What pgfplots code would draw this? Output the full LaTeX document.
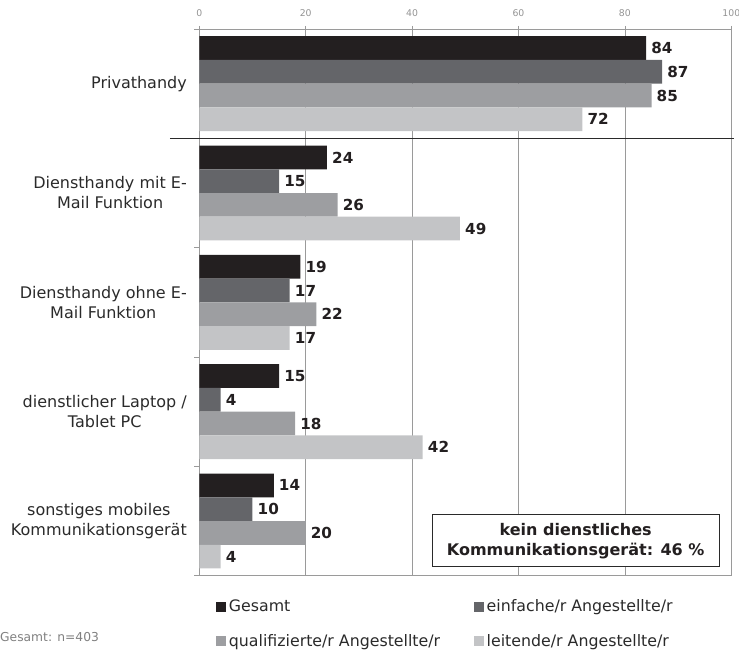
\documentclass[border=0pt]{standalone}
\usepackage{fontspec}
\setmainfont{DejaVu Sans}
\usepackage{pgfplots}
\pgfplotsset{compat=1.18}

\definecolor{cGes}{HTML}{231F20}
\definecolor{cEin}{HTML}{646569}
\definecolor{cQua}{HTML}{9D9EA1}
\definecolor{cLei}{HTML}{C3C4C6}
\definecolor{gridc}{HTML}{9A9A9A}
\definecolor{txt}{HTML}{2A2A2A}
\definecolor{ticktxt}{HTML}{939393}

\pgfplotsset{
  sq/.style={legend image code/.code={\fill[##1] (0pt,-5pt) rectangle (10pt,5pt);}},
}

\begin{document}
\begin{tikzpicture}
\useasboundingbox (-199.3pt,-74.3pt) rectangle (539.7pt,575.7pt);
\begin{axis}[
  scale only axis, width=532pt, height=546.7pt,
  xbar, bar width=0.217,
  xmin=0, xmax=100, ymin=-0.5, ymax=4.5, y dir=reverse,
  clip=false,
  /pgf/number format/assume math mode=true,
  axis line style={gridc, line width=0.8pt},
  xmajorgrids, grid style={gridc, line width=0.8pt},
  xtick={0,20,...,100}, xtick pos=right, xticklabel pos=right,
  tick align=outside, major tick length=3pt,
  xtick style={gridc, line width=0.8pt},
  xticklabel style={font=\fontsize{9.3}{10}\selectfont, text=ticktxt, yshift=5.5pt},
  ytick={0,1,2,3,4},
  yticklabels={Privathandy,
    {Diensthandy mit E-\\Mail Funktion},
    {Diensthandy ohne E-\\Mail Funktion},
    {dienstlicher Laptop /\\Tablet PC},
    {sonstiges mobiles\\Kommunikationsgerät}},
  ytick style={draw=none},
  yticklabel style={align=center, font=\fontsize{16}{20}\selectfont, text=txt,
    inner sep=0pt, xshift=-9.3pt},
  nodes near coords,
  nodes near coords style={font=\bfseries\fontsize{15.2}{18}\selectfont, text=cGes,
    anchor=west, inner sep=0pt, xshift=5pt},
  legend columns=2,
  legend cell align=left,
  legend style={draw=none, fill=none, inner sep=0pt,
    at={(0.0308,-0.0883)}, anchor=west,
    nodes={font=\fontsize{15.8}{19}\selectfont, text=txt, inner xsep=3pt, inner ysep=2pt},
    row sep=17pt,
    /tikz/every even column/.append style={column sep=30.5pt}},
]
\addplot[fill=cGes, draw=none, bar shift=-0.3255, sq]
  coordinates {(84,0) (24,1) (19,2) (15,3) (14,4)};
\addplot[fill=cEin, draw=none, bar shift=-0.1085, sq]
  coordinates {(87,0) (15,1) (17,2) (4,3) (10,4)};
\addplot[fill=cQua, draw=none, bar shift=0.1085, sq]
  coordinates {(85,0) (26,1) (22,2) (18,3) (20,4)};
\addplot[fill=cLei, draw=none, bar shift=0.3255, sq]
  coordinates {(72,0) (49,1) (17,2) (42,3) (4,4)};
\legend{Gesamt, einfache/r Angestellte/r, qualifizierte/r Angestellte/r, leitende/r Angestellte/r}

% group boundaries on the left edge
\draw[gridc, line width=0.8pt] (axis cs:0,-0.5) -- ++(-5pt,0pt);
\draw[gridc, line width=0.8pt] (axis cs:0,1.5) -- ++(-5pt,0pt);
\draw[gridc, line width=0.8pt] (axis cs:0,2.5) -- ++(-5pt,0pt);
\draw[gridc, line width=0.8pt] (axis cs:0,3.5) -- ++(-5pt,0pt);
\draw[gridc, line width=0.8pt] (axis cs:0,4.5) -- ++(-5pt,0pt);
% separator between private and business devices
\draw[txt, line width=1.1pt] (axis cs:0,0.5) ++(-29.3pt,0pt) -- (axis cs:100,0.5) -- ++(3pt,0pt);

\node[draw=txt, line width=0.8pt, fill=white, minimum width=286.7pt, minimum height=51.7pt,
  align=center, font=\bfseries\fontsize{16}{20}\selectfont, text=cGes, inner sep=0pt]
  at (axis cs:70.75,4.18) {kein dienstliches\\Kommunikationsgerät: 46~\%};
\end{axis}
\node[anchor=west, inner sep=0pt, font=\fontsize{12.3}{14}\selectfont, text=gray]
  at (-199.3pt,-61.8pt) {Gesamt: n=403};
\end{tikzpicture}
\end{document}
